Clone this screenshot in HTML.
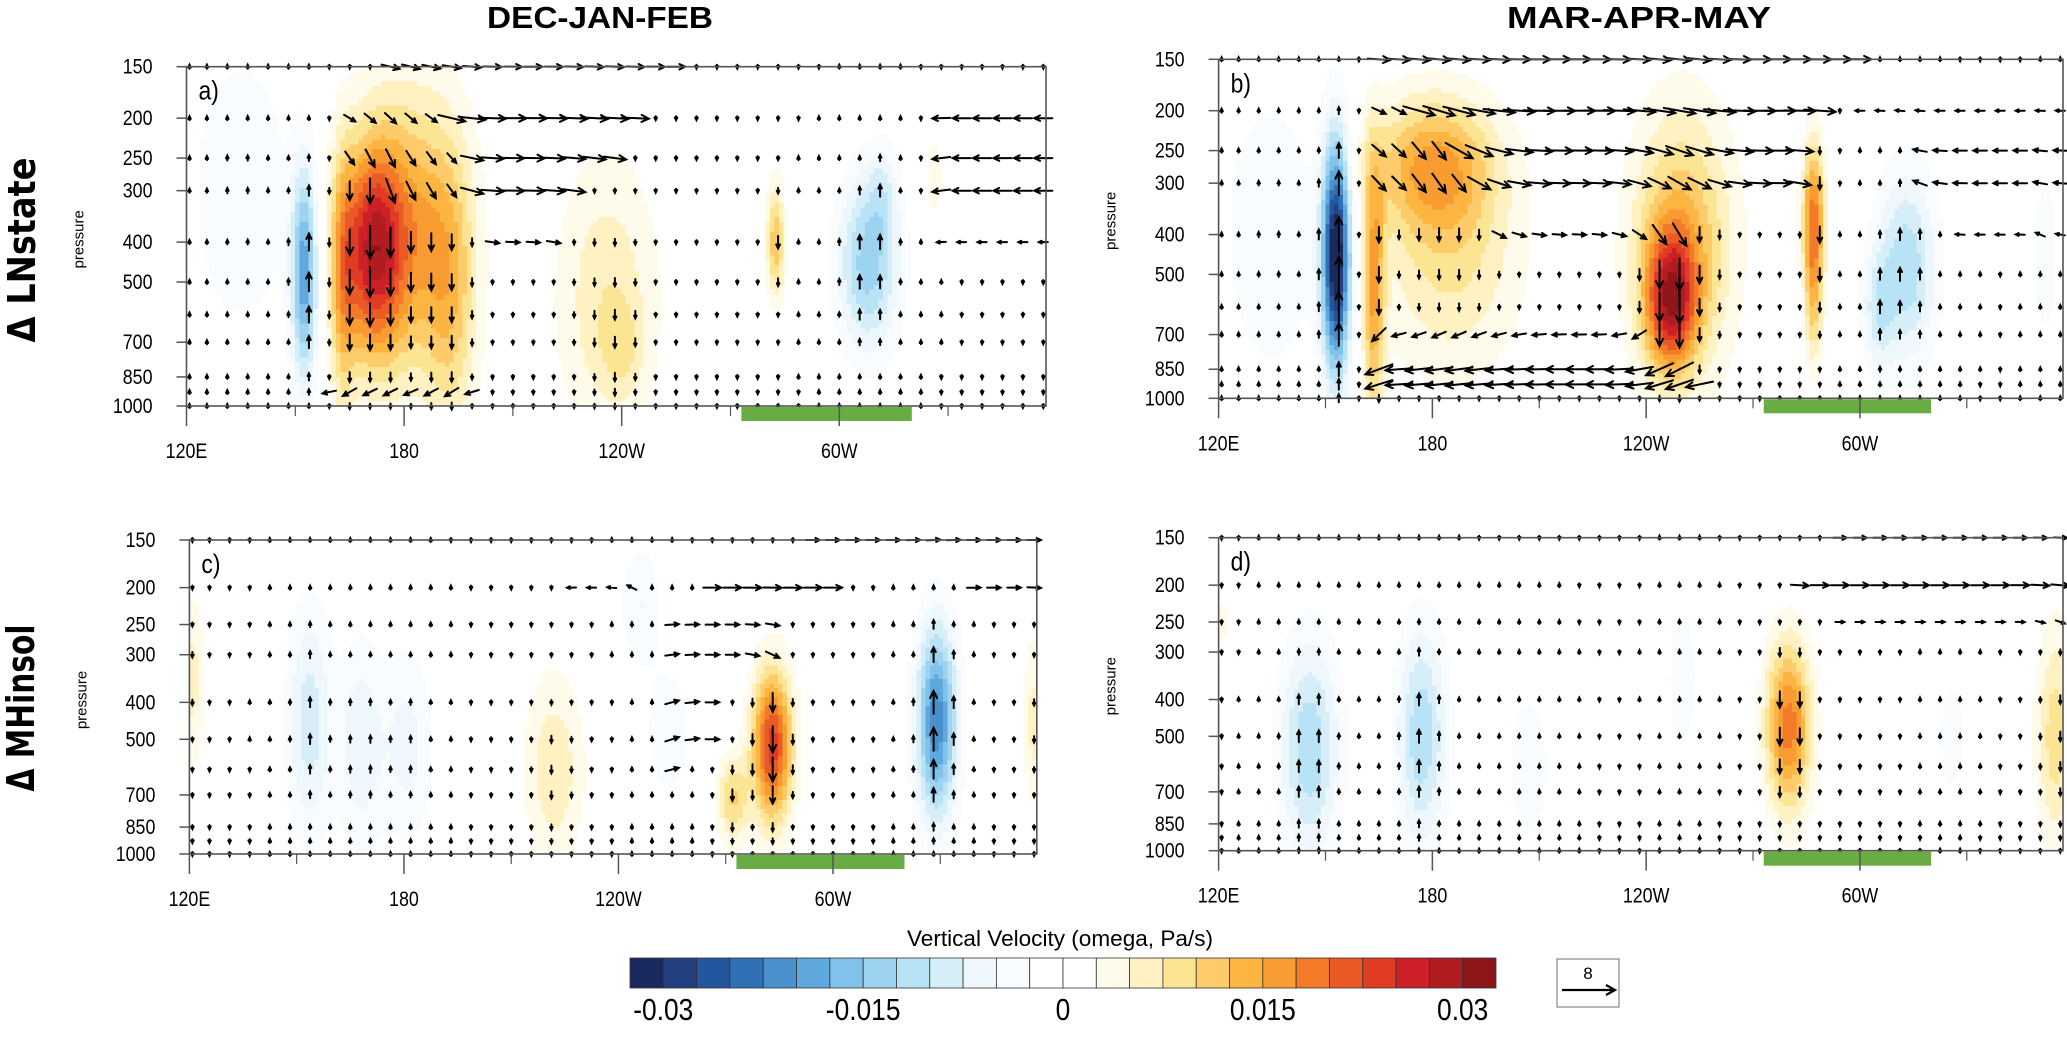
<!DOCTYPE html>
<html><head><meta charset="utf-8"><style>
html,body{margin:0;padding:0;background:#fff;}
svg{display:block;}
text{font-family:"Liberation Sans",sans-serif;fill:#000;}
</style></head>
<body>
<svg id="fig" xmlns="http://www.w3.org/2000/svg" width="2067" height="1064" viewBox="0 0 2067 1064"></svg>
<script>
// ---- data ----
const pressureTicks = [150,200,250,300,400,500,700,850,1000];
const arrowLevels = [150,200,250,300,400,500,600,700,850,925,1000];
const lonTicks = [120,180,240,300];
const lonTickLabels = ["120E","180","120W","60W"];
const lonMinorTicks = [150,210,270,330];
const cbarColors = ["#1b2a5e","#22407f","#2456a0","#3070b5","#4a90cc","#5fa8dd","#80c2ea","#9dd3f0","#b8e3f6","#d5eef8","#eef8fc","#f8fcfe","#ffffff",
 "#ffffff","#fffbea","#fff1c2","#fbe492","#fdcb6a","#fbb540","#f89c32","#f47a2a","#ea5a26","#e03c24","#cc1f27","#b01c20","#8e1518"];
const cbarLabels = ["-0.03","-0.015","0","0.015","0.03"];
const cbarLabelBounds = [1,7,13,19,25];
// blobs: [lon, pressure, lonSigma(deg), logP sigma (axis fraction), omega amplitude]
const blobsA = [[152.5,480,2.5,0.22,-0.019],[135,300,10,0.3,-0.005],[171,420,6,0.22,0.022],[182,380,10,0.3,0.014],
 [163,500,2.5,0.28,0.01],[193,550,5,0.3,0.008],[236,550,10,0.3,0.007],[240,720,4,0.1,0.004],[282.5,400,1.8,0.12,0.012],
 [308,450,6,0.18,-0.014],[312,300,3,0.1,-0.005],[326,280,2,0.1,0.004]];
const blobsB = [[153,450,2.8,0.24,-0.034],[135,400,10,0.3,-0.005],[163.5,550,2.2,0.28,0.014],[180,270,12,0.14,0.013],
 [185,450,14,0.25,0.008],[247,580,5,0.14,0.022],[250,420,10,0.28,0.013],[287,380,2.2,0.17,0.02],[287,650,1.5,0.12,0.006],
 [313,480,6,0.2,-0.012],[305,620,3,0.12,-0.007],[352,450,3,0.2,-0.004]];
const blobsC = [[153.5,450,4.5,0.26,-0.009],[168,520,4.5,0.24,-0.007],[181,520,5,0.22,-0.006],[222,600,6,0.22,0.007],
 [246,220,4,0.14,-0.005],[254,480,5,0.17,-0.004],[283,520,4,0.17,0.024],[272,720,3,0.1,0.01],[329,450,4,0.22,-0.022],
 [121,350,2,0.2,0.006],[356,450,2,0.2,0.006]];
const blobsD = [[145.5,540,6,0.25,-0.012],[177,500,5,0.25,-0.012],[207,600,5,0.2,-0.004],[250,350,3.5,0.2,-0.004],
 [280,470,4.5,0.19,0.019],[325.5,500,3,0.15,-0.004],[355,500,4,0.25,0.009],[121,250,2,0.1,0.003]];
// zonal wind segments: [pressure, lonStart, lonEnd, u]
const jetsA = [[150,175,260,4],[200,190,245,6],[250,195,240,5],[300,195,230,5],[400,200,225,3],[200,325,357,-4],[250,325,357,-4],
 [300,325,357,-4],[400,325,357,-2],[925,155,200,-3],[200,160,190,2.5],[250,165,195,2],[300,175,195,2]];
const jetsB = [[150,160,300,5],[200,175,290,7],[250,185,285,6],[300,190,285,5],[400,195,250,3],[200,300,357,-2],[250,315,357,-3],
 [300,315,357,-3],[400,325,357,-2],[700,160,240,-3],[850,160,250,-6],[925,160,260,-6],[200,160,175,3],[250,160,185,3],[300,160,190,3]];
const jetsC = [[200,225,245,-2],[200,265,300,4],[250,255,285,3],[300,255,285,3],[400,250,270,3],[500,250,270,3],[600,250,260,3],
 [150,290,357,3],[200,335,357,3]];
const jetsD = [[200,280,357,4],[250,290,357,2],[150,290,357,3]];
const greenBar = [273,320];

const NS="http://www.w3.org/2000/svg";
const svg=document.getElementById('fig');
function el(tag,attrs,parent){const e=document.createElementNS(NS,tag);for(const k in attrs)e.setAttribute(k,attrs[k]);(parent||svg).appendChild(e);return e;}

const LON0=120, LON1=357;
const panels=[
 {key:'a',label:'a)',x0:186.5,x1:1046,y0:66.7,y1:406,blobs:blobsA,jets:jetsA},
 {key:'b',label:'b)',x0:1218.6,x1:2063,y0:59.3,y1:398.3,blobs:blobsB,jets:jetsB},
 {key:'c',label:'c)',x0:189.4,x1:1036.8,y0:540,y1:854,blobs:blobsC,jets:jetsC},
 {key:'d',label:'d)',x0:1218.6,x1:2063,y0:537.7,y1:850.7,blobs:blobsD,jets:jetsD}
];
function fOf(p){return Math.log(p/150)/Math.log(1000/150);}
function colorIdx(v){let i=Math.floor((v+0.03)/0.0025)+1;return Math.max(0,Math.min(25,i));}
function field(blobs,lon,p){const f=fOf(p);let s=0;for(const b of blobs){const dx=(lon-b[0])/b[2],df=(f-fOf(b[1]))/b[3];s+=b[4]*Math.exp(-0.5*(dx*dx+df*df));}return s;}
function segJet(jets,lon,p){let u=0;for(const j of jets){if(j[0]===p&&lon>=j[1]&&lon<=j[2])u+=j[3];}return u;}

for(const P of panels){
 const xS=lon=>P.x0+(lon-LON0)/(LON1-LON0)*(P.x1-P.x0);
 const yS=p=>P.y0+fOf(p)*(P.y1-P.y0);
 const g=el('g',{});
 
 
 const fg=el('g',{'shape-rendering':'crispEdges'},g);
 
 
 const nL=190,nF=70;
 for(let j=0;j<nF;j++){
  const fm=(j+0.5)/nF, p=150*Math.exp(fm*Math.log(1000/150));
  const ya=P.y0+j/nF*(P.y1-P.y0), yb=P.y0+(j+1)/nF*(P.y1-P.y0);
  let runStart=0,runC=-1;
  for(let i=0;i<=nL;i++){
   let c=-2;
   if(i<nL){const lon=LON0+(i+0.5)*(LON1-LON0)/nL;c=colorIdx(field(P.blobs,lon,p));}
   if(c!==runC){
    if(runC>=0&&cbarColors[runC]!=="#ffffff"){
     const la=LON0+runStart*(LON1-LON0)/nL, lb=LON0+i*(LON1-LON0)/nL;
     const r=el('rect',{x:xS(la).toFixed(1),y:ya.toFixed(1),width:(xS(lb)-xS(la)+0.6).toFixed(1),height:(yb-ya+0.6).toFixed(1),fill:cbarColors[runC]},fg);
     
     
    }
    runStart=i;runC=c;
   }
  }
 }
 const ag=el('g',{stroke:'#000','stroke-width':2,fill:'none','stroke-linecap':'round'},g);
 
 
 for(const p of arrowLevels){
  for(let k=0;k<=42;k++){
   const lon=LON0+k*5.625;
   let dx=segJet(P.jets,lon,p)*4.5, dy=field(P.blobs,lon,p)*1100;
   let L=Math.hypot(dx,dy);
   if(L<4){ if(L<0.01){dy=1;L=1;} dx=dx/L*4; dy=dy/L*4; L=4; }
   const x=xS(lon)+(k===0?3:0), y=yS(p);
   const x1=x-dx/2,y1=y-dy/2,x2=x+dx/2,y2=y+dy/2;
   const ang=Math.atan2(dy,dx), h=Math.min(8,Math.max(3,0.35*L));
   const ha=0.45;
   const d=`M${x1.toFixed(1)},${y1.toFixed(1)}L${x2.toFixed(1)},${y2.toFixed(1)}M${(x2-h*Math.cos(ang-ha)).toFixed(1)},${(y2-h*Math.sin(ang-ha)).toFixed(1)}L${x2.toFixed(1)},${y2.toFixed(1)}L${(x2-h*Math.cos(ang+ha)).toFixed(1)},${(y2-h*Math.sin(ang+ha)).toFixed(1)}`;
   const a=el('path',{d:d},ag);
   
   
  }
 }
 const fr=el('rect',{x:P.x0,y:P.y0,width:P.x1-P.x0,height:P.y1-P.y0,fill:'none',stroke:'#555','stroke-width':1.6},g);
 
 
 const gb=el('rect',{x:xS(greenBar[0]),y:P.y1+1,width:xS(greenBar[1])-xS(greenBar[0]),height:14,fill:'#6aac44'},g);
 
 
 lonTicks.forEach((lon,i)=>{
  const t=el('line',{x1:xS(lon),x2:xS(lon),y1:P.y1,y2:P.y1+20,stroke:'#555','stroke-width':1.5},g);
  
  
  const tx=el('text',{x:xS(lon),y:P.y1+52,'font-size':21,'text-anchor':'middle',transform:`translate(${xS(lon)},0) scale(0.85,1) translate(${-xS(lon)},0)`},g);
  tx.textContent=lonTickLabels[i];
  
  
 });
 lonMinorTicks.forEach(lon=>{
  const t=el('line',{x1:xS(lon),x2:xS(lon),y1:P.y1,y2:P.y1+10,stroke:'#555','stroke-width':1.2},g);
  
  
 });
 pressureTicks.forEach(p=>{
  const y=yS(p);
  const t=el('line',{x1:P.x0-10,x2:P.x0,y1:y,y2:y,stroke:'#555','stroke-width':1.5},g);
  
  
  const xr=P.x0-34;
  const tx=el('text',{x:xr,y:y+7,'font-size':21,'text-anchor':'end',transform:`translate(${xr},0) scale(0.85,1) translate(${-xr},0)`},g);
  tx.textContent=String(p);
  
  
 });
 const yt=(P.y0+P.y1)/2-(P.key==='a'||P.key==='c'?-3:8);
 const px=P.x0-103;
 const pt=el('text',{x:0,y:0,'font-size':15,'text-anchor':'middle',transform:`translate(${px},${yt}) rotate(-90)`},g);
 pt.textContent='pressure';
 
 
 const pl=el('text',{x:P.x0+12,y:P.y0+33,'font-size':27,transform:`translate(${P.x0+12},0) scale(0.85,1) translate(${-(P.x0+12)},0)`},g);
 pl.textContent=P.label;
 
 
}

function txt(content,attrs,name){const t=el('text',attrs);t.textContent=content;return t;}
txt('DEC-JAN-FEB',{x:487,y:28,'font-size':31,'font-weight':'bold',textLength:226,lengthAdjust:'spacingAndGlyphs'},'column-title-djf');
txt('MAR-APR-MAY',{x:1507,y:28,'font-size':31,'font-weight':'bold',textLength:264,lengthAdjust:'spacingAndGlyphs'},'column-title-mam');
txt('Δ LNstate',{x:0,y:0,'font-size':38,'font-weight':'bold','text-anchor':'middle',textLength:185,lengthAdjust:'spacingAndGlyphs',transform:'translate(35,250) rotate(-90)',style:'font-family:"DejaVu Sans",sans-serif'},'row-title-lnstate');
txt('Δ MHinsol',{x:0,y:0,'font-size':38,'font-weight':'bold','text-anchor':'middle',textLength:167,lengthAdjust:'spacingAndGlyphs',transform:'translate(34,708) rotate(-90)',style:'font-family:"DejaVu Sans",sans-serif'},'row-title-mhinsol');

const cb=el('g',{});


const CBX0=630,CBX1=1496,CBY0=958,CBY1=988;
const cw=(CBX1-CBX0)/cbarColors.length;
cbarColors.forEach((c,i)=>{
 const r=el('rect',{x:CBX0+i*cw,y:CBY0,width:cw,height:CBY1-CBY0,fill:c,stroke:'#333','stroke-width':0.8},cb);
 
 
});
cbarLabels.forEach((l,i)=>{
 const x=CBX0+cbarLabelBounds[i]*cw;
 const t=el('text',{x:x,y:1020,'font-size':31,'text-anchor':'middle',transform:`translate(${x},0) scale(0.85,1) translate(${-x},0)`},cb);
 t.textContent=l;
 
 
});
txt('Vertical Velocity (omega, Pa/s)',{x:907,y:946,'font-size':22,textLength:306,lengthAdjust:'spacingAndGlyphs'},'colorbar-title');

const rv=el('g',{});


el('rect',{x:1557,y:959,width:62,height:48,fill:'#fff',stroke:'#888','stroke-width':1.2},rv);
const r8=el('text',{x:1588,y:979,'font-size':17,'text-anchor':'middle'},rv);
r8.textContent='8';


el('path',{d:'M1562,990L1615,990M1606,985L1615,990L1606,995',stroke:'#000','stroke-width':2.2,fill:'none'},rv);
</script>
</body></html>
